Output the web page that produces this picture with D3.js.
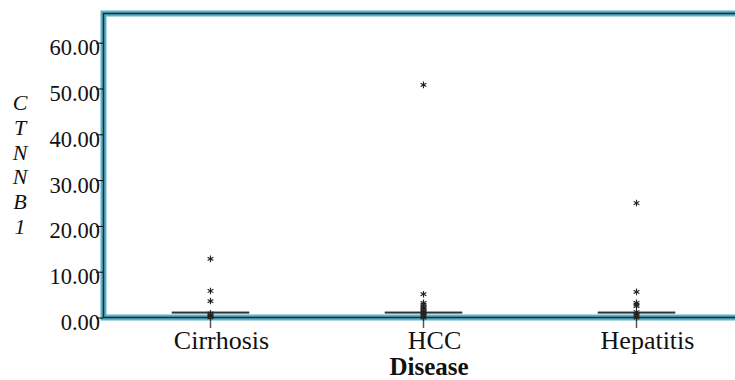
<!DOCTYPE html>
<html><head><meta charset="utf-8">
<script src="https://cdn.jsdelivr.net/npm/d3@7"></script>
<style>body{margin:0;background:#fff}svg{display:block}</style>
</head><body>
<svg id="c" width="735" height="380"></svg>
<script>
const categories = ["Cirrhosis", "HCC", "Hepatitis"];
const yTicks = [0, 10, 20, 30, 40, 50, 60];
const q1 = [1.05, 1.05, 1.05];
const medians = [1.2, 1.2, 1.2];
const q3 = [1.3, 1.3, 1.3];
const outliersCirrhosis = [12.9, 5.9, 3.7, 1.0, 0.7, 0.4, 0.15];
const outliersHCC = [50.9, 5.2, 3.3, 2.9, 2.5, 2.2, 1.9, 1.6, 1.3, 1.0, 0.7, 0.4, 0.1];
const outliersHepatitis = [25.1, 5.7, 3.3, 2.9, 2.6, 1.3, 0.9, 0.5, 0.1];
const yLabel = "CTNNB1";
const xLabel = "Disease";

const outliers = [outliersCirrhosis, outliersHCC, outliersHepatitis];
const svg = d3.select("#c");
const x = d3.scaleBand().domain(categories).range([104, 743]);
const y = d3.scaleLinear().domain([0, 60]).range([318, 43.2]);
const serif = "'Liberation Serif','Times New Roman',serif";

// plot frame
const frame = svg.append("g");
frame.append("rect").attr("x", 103.5).attr("y", 13.5).attr("width", 700).attr("height", 304)
  .attr("fill", "none").attr("stroke", "#5ab2c8").attr("stroke-width", 6);
frame.append("rect").attr("x", 103.5).attr("y", 13.5).attr("width", 700).attr("height", 304)
  .attr("fill", "none").attr("stroke", "#14313a").attr("stroke-width", 1.6);

// y axis ticks and labels
const ya = svg.append("g");
ya.selectAll("line").data(yTicks).join("line")
  .attr("x1", 96).attr("x2", 103).attr("y1", d => y(d)).attr("y2", d => y(d))
  .attr("stroke", "#000").attr("stroke-width", 1);
ya.selectAll("text").data(yTicks).join("text")
  .attr("x", 100).attr("y", d => y(d) + 12)
  .attr("text-anchor", "end").attr("font-family", serif).attr("font-size", 22.5)
  .attr("fill", "#111").text(d => d3.format(".2f")(d));

// x axis ticks
svg.append("g").selectAll("line").data(categories).join("line")
  .attr("x1", d => x(d) + x.bandwidth() / 2).attr("x2", d => x(d) + x.bandwidth() / 2)
  .attr("y1", 318).attr("y2", 328).attr("stroke", "#555").attr("stroke-width", 1.5);
svg.append("g").selectAll("text").data(categories).join("text")
  .attr("x", d => x(d) + x.bandwidth() / 2 + 11).attr("y", 349)
  .attr("text-anchor", "middle").attr("font-family", serif).attr("font-size", 26)
  .attr("fill", "#111").text(d => d);

// boxes
const bw = 77;
const boxes = svg.append("g");
categories.forEach((c, i) => {
  const cx = x(c) + x.bandwidth() / 2;
  boxes.append("rect").attr("x", cx - bw / 2).attr("width", bw)
    .attr("y", y(q3[i])).attr("height", Math.max(0.5, y(q1[i]) - y(q3[i])))
    .attr("fill", "none").attr("stroke", "#666").attr("stroke-width", 0.8);
  boxes.append("line").attr("x1", cx - bw / 2).attr("x2", cx + bw / 2)
    .attr("y1", y(medians[i])).attr("y2", y(medians[i]))
    .attr("stroke", "#333").attr("stroke-width", 1.5);
  const star = d3.symbol(d3.symbolAsterisk, 30);
  boxes.append("g").selectAll("path").data(outliers[i]).join("path")
    .attr("d", star).attr("transform", d => `translate(${cx},${y(d)})`)
    .attr("fill", "none").attr("stroke", "#222").attr("stroke-width", 1.1);
});

// axis titles
svg.append("g").selectAll("text").data(yLabel.split("")).join("text")
  .attr("x", 20).attr("y", (d, i) => 110 + i * 24.8)
  .attr("text-anchor", "middle").attr("font-family", serif).attr("font-style", "italic")
  .attr("font-size", 22).attr("fill", "#111").text(d => d);
svg.append("text").attr("x", 429).attr("y", 375).attr("text-anchor", "middle")
  .attr("font-family", serif).attr("font-weight", "bold").attr("font-size", 25)
  .attr("fill", "#111").text(xLabel);
</script>
</body></html>
